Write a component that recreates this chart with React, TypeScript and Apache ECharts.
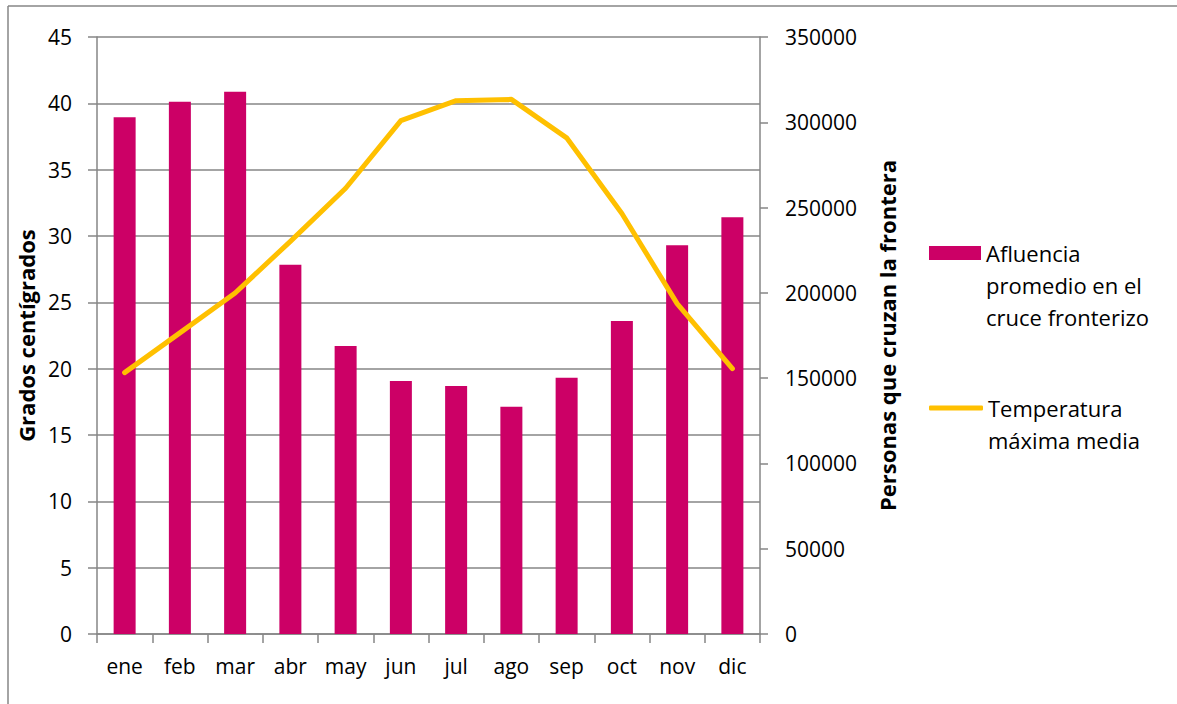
import React, { useEffect, useRef } from "react";
import * as echarts from "echarts";

const months = ["ene", "feb", "mar", "abr", "may", "jun", "jul", "ago", "sep", "oct", "nov", "dic"];
const afluencia = [302900, 312100, 317900, 216500, 168800, 148300, 145400, 133300, 150300, 183500, 227900, 244300];
const temperatura = [19.7, 22.7, 25.7, 29.6, 33.6, 38.7, 40.2, 40.3, 37.4, 31.7, 24.9, 20.0];
const tempAxis = { min: 0, max: 45, interval: 5 };
const peopleAxis = { min: 0, max: 350000, interval: 50000 };
const nameBars = "Afluencia\npromedio en el\ncruce fronterizo";
const nameLine = "Temperatura\nmáxima media";
const titleLeft = "Grados centígrados";
const titleRight = "Personas que cruzan la frontera";

const FONT = "'Open Sans', sans-serif";
const GRAY = "#868686";

export default function App() {
  const ref = useRef<HTMLDivElement>(null);
  useEffect(() => {
    if (!ref.current) return;
    const chart = echarts.init(ref.current, undefined, { renderer: "svg" });
    chart.setOption({
      animation: false,
      backgroundColor: "#ffffff",
      textStyle: { fontFamily: FONT },
      grid: { left: 97, right: 417, top: 37, bottom: 70, containLabel: false },
      xAxis: {
        type: "category",
        data: months,
        boundaryGap: true,
        axisLine: { lineStyle: { color: GRAY, width: 1.5 } },
        axisTick: { show: true, length: 9, lineStyle: { color: GRAY, width: 1.5 } },
        axisLabel: { color: "#000", fontSize: 21, margin: 21, fontFamily: FONT },
      },
      yAxis: [
        {
          type: "value",
          position: "left",
          min: tempAxis.min,
          max: tempAxis.max,
          interval: tempAxis.interval,
          name: titleLeft,
          nameLocation: "middle",
          nameRotate: 90,
          nameGap: 51,
          nameTextStyle: { color: "#000", fontSize: 22, fontWeight: "bold", fontFamily: FONT },
          axisLine: { show: true, lineStyle: { color: GRAY, width: 1.5 } },
          axisTick: { show: true, length: 9, lineStyle: { color: GRAY, width: 1.5 } },
          axisLabel: { color: "#000", fontSize: 21, margin: 25, fontFamily: FONT },
          splitLine: { show: true, lineStyle: { color: GRAY, width: 1.5 } },
        },
        {
          type: "value",
          position: "right",
          min: peopleAxis.min,
          max: peopleAxis.max,
          interval: peopleAxis.interval,
          name: titleRight,
          nameLocation: "middle",
          nameRotate: 90,
          nameGap: 116,
          nameTextStyle: { color: "#000", fontSize: 22, fontWeight: "bold", fontFamily: FONT },
          axisLine: { show: true, lineStyle: { color: GRAY, width: 1.5 } },
          axisTick: { show: true, length: 8, lineStyle: { color: GRAY, width: 1.5 } },
          axisLabel: {
            color: "#000",
            fontSize: 21,
            margin: 25,
            fontFamily: FONT,
            formatter: (v: number) => String(v),
          },
          splitLine: { show: false },
        },
      ],
      legend: [
        {
          orient: "vertical",
          left: 929,
          top: 173,
          padding: 0,
          itemWidth: 52,
          itemHeight: 14,
          selectedMode: false,
          formatter: (n: string) => "\n\n" + n,
          textStyle: { color: "#000", fontSize: 22, lineHeight: 32, fontFamily: FONT },
          data: [{ name: nameBars, icon: "rect" }],
        },
        {
          orient: "vertical",
          left: 929,
          top: 360,
          padding: 0,
          itemWidth: 54,
          itemHeight: 5,
          selectedMode: false,
          formatter: (n: string) => "\n" + n,
          textStyle: { color: "#000", fontSize: 22, lineHeight: 32, fontFamily: FONT },
          data: [{ name: nameLine, icon: "roundRect" }],
        },
      ],
      graphic: [
        { type: "line", shape: { x1: 8, y1: 6, x2: 1177, y2: 6 }, style: { stroke: GRAY, lineWidth: 1.5 } },
        { type: "line", shape: { x1: 8, y1: 6, x2: 8, y2: 704 }, style: { stroke: GRAY, lineWidth: 1.5 } },
      ],
      series: [
        {
          name: nameBars,
          type: "bar",
          yAxisIndex: 1,
          data: afluencia,
          barWidth: 22,
          itemStyle: { color: "#CC0066" },
        },
        {
          name: nameLine,
          type: "line",
          yAxisIndex: 0,
          data: temperatura,
          symbol: "none",
          showSymbol: false,
          lineStyle: { color: "#FFC000", width: 5, cap: "round", join: "round" },
          itemStyle: { color: "#FFC000" },
        },
      ],
    });
    return () => chart.dispose();
  }, []);
  return <div ref={ref} style={{ position: "absolute", left: 0, top: 0, width: 1177, height: 704 }} />;
}
